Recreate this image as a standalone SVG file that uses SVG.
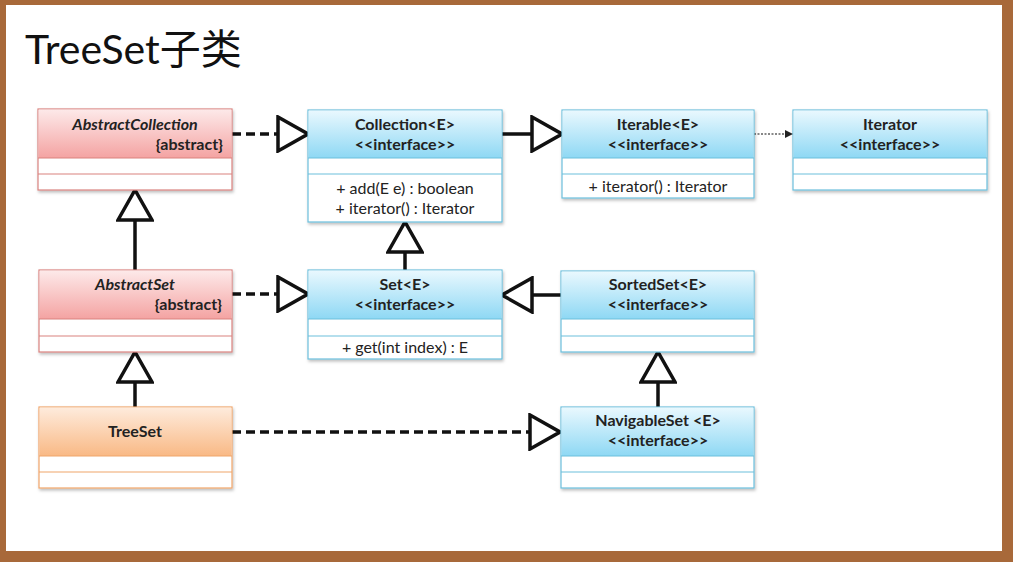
<svg xmlns="http://www.w3.org/2000/svg" width="1013" height="562" viewBox="0 0 1013 562">
<defs>
<style>
.frame{fill:#a8693a}
.paper{fill:#ffffff}
.box{fill:#ffffff;stroke-width:1.2}
.cls-red .box{stroke:#d9827f}
.cls-blue .box{stroke:#6cbfdc}
.cls-orange .box{stroke:#f0a56a}
.sep-red{stroke:#d9827f;stroke-width:1.2}
.sep-blue{stroke:#6cbfdc;stroke-width:1.2}
.sep-orange{stroke:#f0a56a;stroke-width:1.2}
.t{font-family:"Lato","Liberation Sans",sans-serif;font-size:16px;fill:#222;text-anchor:middle}
.b{font-weight:bold}
.i{font-style:italic}
.m{font-size:16px}
.end{text-anchor:end}
.title{font-family:"Lato","Liberation Sans","Noto Sans CJK SC",sans-serif;font-size:41px;fill:#111}
.conn{fill:none;stroke:#111;stroke-width:3.5}
.dash{stroke-dasharray:9,5}
.dot{fill:none;stroke:#111;stroke-width:1.2;stroke-dasharray:2,1.5}
</style>
<linearGradient id="gRed" x1="0" y1="0" x2="0" y2="1">
<stop offset="0" stop-color="#fde9e9"/><stop offset="1" stop-color="#f4a3a2"/>
</linearGradient>
<linearGradient id="gBlue" x1="0" y1="0" x2="0" y2="1">
<stop offset="0" stop-color="#e9f8fe"/><stop offset="1" stop-color="#8ed8f4"/>
</linearGradient>
<linearGradient id="gOrange" x1="0" y1="0" x2="0" y2="1">
<stop offset="0" stop-color="#feebdc"/><stop offset="1" stop-color="#f9b985"/>
</linearGradient>
<filter id="sh" x="-5%" y="-5%" width="115%" height="125%">
<feDropShadow dx="1" dy="2" stdDeviation="1.5" flood-color="#000" flood-opacity="0.25"/>
</filter>
<marker id="tri" markerUnits="userSpaceOnUse" viewBox="0 0 34 38" markerWidth="34" markerHeight="38" refX="32" refY="19" orient="auto">
<path d="M2,2 L32,19 L2,36 Z" fill="#fff" stroke="#111" stroke-width="3.5" stroke-linejoin="miter"/>
</marker>
<marker id="small" markerUnits="userSpaceOnUse" viewBox="0 0 8 8" markerWidth="8" markerHeight="8" refX="8" refY="4" orient="auto">
<path d="M0,0 L8,4 L0,8 Z" fill="#222"/>
</marker>
</defs>

<rect class="frame" x="0" y="0" width="1013" height="562"/>
<rect class="paper" x="6" y="5" width="996" height="546"/>

<text class="title" x="25" y="64">TreeSet子类</text>

<g id="connectors">
<path class="conn dash" d="M232,134 H308" marker-end="url(#tri)"/>
<path class="conn" d="M502,134 H562" marker-end="url(#tri)"/>
<path class="dot" d="M754,134 H793" marker-end="url(#small)"/>
<path class="conn" d="M135,270 V190" marker-end="url(#tri)"/>
<path class="conn dash" d="M232,294 H308" marker-end="url(#tri)"/>
<path class="conn" d="M405,270 V222" marker-end="url(#tri)"/>
<path class="conn" d="M561,295 H502" marker-end="url(#tri)"/>
<path class="conn" d="M135,407 V352" marker-end="url(#tri)"/>
<path class="conn dash" d="M232,432 H560" marker-end="url(#tri)"/>
<path class="conn" d="M658,407 V352" marker-end="url(#tri)"/>
</g>

<g id="AbstractCollection" class="cls-red">
<rect class="box" x="38" y="109" width="194" height="81" filter="url(#sh)"/>
<rect x="38.6" y="109.6" width="192.8" height="48.4" fill="url(#gRed)"/>
<line class="sep-red" x1="38" y1="158" x2="232" y2="158"/>
<line class="sep-red" x1="38" y1="174" x2="232" y2="174"/>
<text class="t b i" x="135" y="130">AbstractCollection</text>
<text class="t b end" x="223" y="150">{abstract}</text>
</g>

<g id="Collection" class="cls-blue">
<rect class="box" x="308" y="110" width="194" height="112" filter="url(#sh)"/>
<rect x="308.6" y="110.6" width="192.8" height="47.4" fill="url(#gBlue)"/>
<line class="sep-blue" x1="308" y1="158" x2="502" y2="158"/>
<line class="sep-blue" x1="308" y1="174" x2="502" y2="174"/>
<text class="t b" x="405" y="130">Collection&lt;E&gt;</text>
<text class="t b" x="405" y="150">&lt;&lt;interface&gt;&gt;</text>
<text class="t m" x="405" y="194">+ add(E e) : boolean</text>
<text class="t m" x="405" y="214">+ iterator() : Iterator</text>
</g>

<g id="Iterable" class="cls-blue">
<rect class="box" x="562" y="110" width="192" height="88" filter="url(#sh)"/>
<rect x="562.6" y="110.6" width="190.8" height="47.4" fill="url(#gBlue)"/>
<line class="sep-blue" x1="562" y1="158" x2="754" y2="158"/>
<line class="sep-blue" x1="562" y1="174" x2="754" y2="174"/>
<text class="t b" x="658" y="130">Iterable&lt;E&gt;</text>
<text class="t b" x="658" y="150">&lt;&lt;interface&gt;&gt;</text>
<text class="t m" x="658" y="192">+ iterator() : Iterator</text>
</g>

<g id="Iterator" class="cls-blue">
<rect class="box" x="793" y="110" width="194" height="80" filter="url(#sh)"/>
<rect x="793.6" y="110.6" width="192.8" height="47.4" fill="url(#gBlue)"/>
<line class="sep-blue" x1="793" y1="158" x2="987" y2="158"/>
<line class="sep-blue" x1="793" y1="174" x2="987" y2="174"/>
<text class="t b" x="890" y="130">Iterator</text>
<text class="t b" x="890" y="150">&lt;&lt;interface&gt;&gt;</text>
</g>

<g id="AbstractSet" class="cls-red">
<rect class="box" x="39" y="270" width="193" height="82" filter="url(#sh)"/>
<rect x="39.6" y="270.6" width="191.8" height="48.4" fill="url(#gRed)"/>
<line class="sep-red" x1="39" y1="319" x2="232" y2="319"/>
<line class="sep-red" x1="39" y1="336" x2="232" y2="336"/>
<text class="t b i" x="135" y="290">AbstractSet</text>
<text class="t b end" x="222" y="310">{abstract}</text>
</g>

<g id="Set" class="cls-blue">
<rect class="box" x="308" y="270" width="194" height="89" filter="url(#sh)"/>
<rect x="308.6" y="270.6" width="192.8" height="48.4" fill="url(#gBlue)"/>
<line class="sep-blue" x1="308" y1="319" x2="502" y2="319"/>
<line class="sep-blue" x1="308" y1="336" x2="502" y2="336"/>
<text class="t b" x="405" y="290">Set&lt;E&gt;</text>
<text class="t b" x="405" y="310">&lt;&lt;interface&gt;&gt;</text>
<text class="t m" x="405" y="353">+ get(int index) : E</text>
</g>

<g id="SortedSet" class="cls-blue">
<rect class="box" x="561" y="271" width="193" height="81" filter="url(#sh)"/>
<rect x="561.6" y="271.6" width="191.8" height="47.4" fill="url(#gBlue)"/>
<line class="sep-blue" x1="561" y1="319" x2="754" y2="319"/>
<line class="sep-blue" x1="561" y1="336" x2="754" y2="336"/>
<text class="t b" x="658" y="290">SortedSet&lt;E&gt;</text>
<text class="t b" x="658" y="310">&lt;&lt;interface&gt;&gt;</text>
</g>

<g id="TreeSet" class="cls-orange">
<rect class="box" x="39" y="407" width="193" height="81" filter="url(#sh)"/>
<rect x="39.6" y="407.6" width="191.8" height="48.4" fill="url(#gOrange)"/>
<line class="sep-orange" x1="39" y1="456" x2="232" y2="456"/>
<line class="sep-orange" x1="39" y1="472" x2="232" y2="472"/>
<text class="t b" x="135" y="437">TreeSet</text>
</g>

<g id="NavigableSet" class="cls-blue">
<rect class="box" x="561" y="407" width="193" height="81" filter="url(#sh)"/>
<rect x="561.6" y="407.6" width="191.8" height="48.4" fill="url(#gBlue)"/>
<line class="sep-blue" x1="561" y1="456" x2="754" y2="456"/>
<line class="sep-blue" x1="561" y1="472" x2="754" y2="472"/>
<text class="t b" x="658" y="426">NavigableSet &lt;E&gt;</text>
<text class="t b" x="658" y="446">&lt;&lt;interface&gt;&gt;</text>
</g>
</svg>
